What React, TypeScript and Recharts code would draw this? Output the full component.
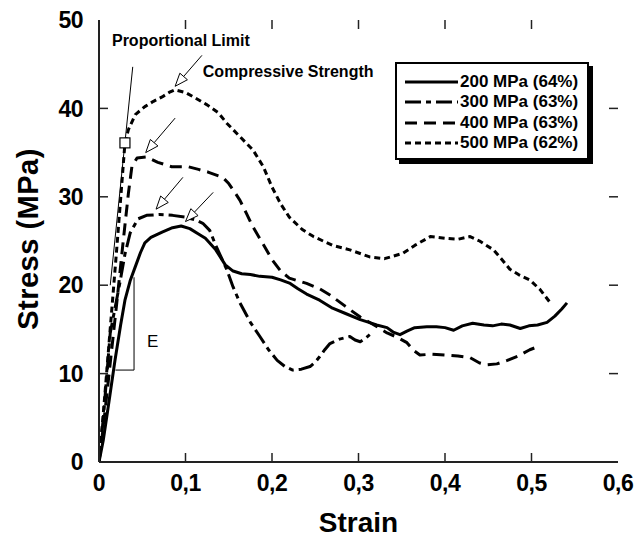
import React from "react";
import {
  LineChart,
  Line,
  XAxis,
  YAxis,
  Legend,
  ReferenceLine,
  ReferenceDot,
} from "recharts";

const FONT = "'Liberation Sans', Arial, sans-serif";

// 200 MPa (64%)
const strain200 = [0, 0.005, 0.01, 0.0185, 0.025, 0.03, 0.036, 0.042, 0.048, 0.053, 0.06, 0.073, 0.085, 0.095, 0.105, 0.115, 0.123, 0.135, 0.146, 0.155, 0.165, 0.175, 0.186, 0.2, 0.21, 0.221, 0.23, 0.24, 0.255, 0.27, 0.285, 0.302, 0.312, 0.321, 0.333, 0.34, 0.348, 0.356, 0.365, 0.379, 0.39, 0.4, 0.41, 0.42, 0.432, 0.445, 0.455, 0.465, 0.475, 0.487, 0.497, 0.507, 0.518, 0.527, 0.535, 0.541];
const stress200 = [0, 2.5, 5.8, 11.5, 15.5, 18.3, 20.5, 22.1, 23.7, 24.8, 25.4, 26, 26.5, 26.7, 26.4, 25.8, 25.3, 24, 22.3, 21.6, 21.3, 21.2, 21, 20.9, 20.6, 20.2, 19.6, 19, 18.3, 17.4, 16.8, 16.1, 15.8, 15.5, 15.2, 14.7, 14.4, 14.8, 15.2, 15.3, 15.3, 15.2, 14.9, 15.4, 15.7, 15.5, 15.4, 15.6, 15.5, 15.1, 15.4, 15.5, 15.8, 16.5, 17.3, 18];

// 300 MPa (63%)
const strain300 = [0, 0.005, 0.013, 0.024, 0.03, 0.036, 0.045, 0.055, 0.07, 0.085, 0.1, 0.111, 0.12, 0.128, 0.135, 0.142, 0.148, 0.155, 0.163, 0.175, 0.186, 0.196, 0.206, 0.215, 0.224, 0.234, 0.244, 0.25, 0.255, 0.261, 0.267, 0.278, 0.29, 0.296, 0.302, 0.308, 0.313];
const stress300 = [0, 5, 14.6, 20.2, 23.5, 25.9, 27.5, 27.9, 28, 27.9, 27.7, 27.4, 27, 26.2, 24.5, 23, 21.7, 19.8, 18, 15.8, 14.2, 12.7, 11.5, 10.8, 10.4, 10.5, 10.8, 11.3, 11.9, 12.7, 13.4, 13.9, 14.2, 13.8, 13.6, 14, 14.4];

// 400 MPa (63%)
const strain400 = [0, 0.005, 0.01, 0.02, 0.028, 0.034, 0.038, 0.044, 0.055, 0.068, 0.084, 0.103, 0.115, 0.126, 0.143, 0.15, 0.157, 0.163, 0.17, 0.178, 0.19, 0.2, 0.21, 0.22, 0.24, 0.255, 0.267, 0.285, 0.302, 0.318, 0.333, 0.345, 0.356, 0.364, 0.371, 0.385, 0.402, 0.415, 0.429, 0.44, 0.448, 0.46, 0.472, 0.485, 0.498, 0.506];
const stress400 = [0, 4, 8.5, 17.5, 25, 30.4, 33.4, 34.4, 34.5, 33.9, 33.4, 33.4, 33.1, 32.8, 32.2, 31.5, 30.5, 29.6, 28.2, 26.6, 24.6, 22.9, 21.6, 20.8, 20.2, 19.6, 18.9, 17.6, 16.4, 15.5, 14.6, 14.1, 13.5, 12.6, 12.1, 12.2, 12.1, 12, 11.8, 11.2, 11, 11.1, 11.5, 12, 12.7, 13];

// 500 MPa (62%)
const strain500 = [0, 0.005, 0.01, 0.02, 0.026, 0.03, 0.034, 0.042, 0.053, 0.063, 0.073, 0.081, 0.088, 0.1, 0.111, 0.125, 0.138, 0.148, 0.163, 0.178, 0.19, 0.2, 0.21, 0.22, 0.235, 0.248, 0.27, 0.29, 0.313, 0.33, 0.351, 0.365, 0.383, 0.4, 0.415, 0.429, 0.44, 0.456, 0.465, 0.475, 0.485, 0.498, 0.51, 0.521];
const stress500 = [0, 5.5, 11.5, 23.5, 31, 36.1, 37.6, 39.3, 40.2, 40.8, 41.3, 41.8, 42.1, 41.8, 41.2, 40.4, 39.5, 38.3, 36.8, 35.3, 33.4, 31.1, 29.2, 27.7, 26.3, 25.5, 24.5, 24, 23.2, 23, 23.6, 24.5, 25.5, 25.3, 25.2, 25.5, 25, 24, 23, 21.8, 21.2, 20.6, 19.5, 18.1];

const seriesLabels = ["200 MPa (64%)", "300 MPa (63%)", "400 MPa (63%)", "500 MPa (62%)"];
const seriesDash = ["0", "16 5 5 5", "12 7", "6 4"];

const xTicks = [0, 0.1, 0.2, 0.3, 0.4, 0.5, 0.6];
const yTicks = [0, 10, 20, 30, 40, 50];

// annotation arrows: [tailStrain, tailStress, tipStrain, tipStress]
const arrows = [
  [0.119, 46.0, 0.088, 42.5],
  [0.088, 38.9, 0.054, 35.0],
  [0.097, 32.2, 0.066, 28.6],
  [0.132, 30.5, 0.1, 27.2],
];

const zip = (xs: number[], ys: number[]) => xs.map((x, i) => ({ x, y: ys[i] }));

const seriesData = [
  zip(strain200, stress200),
  zip(strain300, stress300),
  zip(strain400, stress400),
  zip(strain500, stress500),
];

const fmtStrain = (v: number) => (v === 0 ? "0" : v.toFixed(1).replace(".", ","));

const tickStyle = { fill: "#000", fontSize: 23, fontWeight: 700, fontFamily: FONT, letterSpacing: -0.5 };

// inward tick marks (about 9px long) drawn on all four sides
const X_MAX = 0.6;
const Y_MAX = 50;
const xTickLen = 0.0104;
const yTickLen = 1.02;
const innerX = xTicks.filter((t) => t > 0 && t < X_MAX);
const innerY = yTicks.filter((t) => t > 0 && t < Y_MAX);
const tickSegments = [
  ...innerX.map((t) => [{ x: t, y: 0 }, { x: t, y: yTickLen }]),
  ...innerX.map((t) => [{ x: t, y: Y_MAX }, { x: t, y: Y_MAX - yTickLen }]),
  ...innerY.map((t) => [{ x: 0, y: t }, { x: xTickLen, y: t }]),
  ...innerY.map((t) => [{ x: X_MAX, y: t }, { x: X_MAX - xTickLen, y: t }]),
];

const ArrowShape = (p: any) => {
  const { x1, y1, x2, y2 } = p;
  const dx = x2 - x1;
  const dy = y2 - y1;
  const len = Math.sqrt(dx * dx + dy * dy) || 1;
  const ux = dx / len;
  const uy = dy / len;
  const hl = 13;
  const hw = 5;
  const bx = x2 - ux * hl;
  const by = y2 - uy * hl;
  const pts = `${x2},${y2} ${bx - uy * hw},${by + ux * hw} ${bx + uy * hw},${by - ux * hw}`;
  return (
    <g>
      <line x1={x1} y1={y1} x2={bx} y2={by} stroke="#000" strokeWidth={1} />
      <polygon points={pts} fill="#fff" stroke="#000" strokeWidth={1} />
    </g>
  );
};

const renderLegend = () => (
  <div
    style={{
      width: 194,
      height: 98,
      boxSizing: "border-box",
      border: "2px solid #000",
      boxShadow: "4px 4px 0 #000",
      background: "#fff",
      padding: "8px 0 0 8px",
      fontFamily: FONT,
      fontWeight: 700,
      fontSize: 17,
      color: "#000",
    }}
  >
    {seriesLabels.map((label, i) => (
      <div key={label} style={{ display: "flex", alignItems: "center", height: 20.3 }}>
        <svg width={53} height={6}>
          <line x1={0} y1={3} x2={53} y2={3} stroke="#000" strokeWidth={3} strokeDasharray={seriesDash[i]} />
        </svg>
        <span style={{ marginLeft: 2, whiteSpace: "nowrap" }}>{label}</span>
      </div>
    ))}
  </div>
);

const YTitle = (props: any) => {
  const { viewBox } = props;
  const cx = viewBox.x - 11;
  const cy = viewBox.y + viewBox.height / 2 - 2;
  return (
    <text
      x={cx}
      y={cy}
      transform={`rotate(-90 ${cx} ${cy})`}
      textAnchor="middle"
      dominantBaseline="central"
      fontFamily={FONT}
      fontWeight={700}
      fontSize={29}
      letterSpacing={0.5}
      fill="#000"
    >
      Stress (MPa)
    </text>
  );
};

const axisLine = { stroke: "#222", strokeWidth: 2 };

export default function App() {
  return (
    <div style={{ position: "absolute", left: 0, top: 0, background: "#fff" }}>
      <LineChart width={639} height={541} margin={{ top: 20, right: 21, bottom: 49, left: 39 }}>
        <XAxis
          xAxisId="x"
          type="number"
          dataKey="x"
          domain={[0, X_MAX]}
          ticks={xTicks}
          tickFormatter={fmtStrain}
          allowDataOverflow
          height={30}
          tickSize={-9}
          tickMargin={22}
          tick={tickStyle}
          axisLine={axisLine}
          tickLine={false}
          label={{
            value: "Strain",
            position: "bottom",
            offset: 20,
            style: { fill: "#000", fontSize: 28, fontWeight: 700, fontFamily: FONT },
          }}
        />
        <XAxis
          xAxisId="top"
          orientation="top"
          type="number"
          dataKey="x"
          domain={[0, X_MAX]}
          allowDataOverflow
          height={0}
          tick={false}
          tickLine={false}
          axisLine={axisLine}
        />
        <YAxis
          yAxisId="y"
          type="number"
          domain={[0, Y_MAX]}
          ticks={yTicks}
          allowDataOverflow
          width={60}
          tickSize={-9}
          tickMargin={25}
          tick={tickStyle}
          axisLine={axisLine}
          tickLine={false}
          label={{ content: YTitle }}
        />
        <YAxis
          yAxisId="right"
          orientation="right"
          type="number"
          domain={[0, Y_MAX]}
          allowDataOverflow
          width={0}
          tick={false}
          tickLine={false}
          axisLine={axisLine}
        />
        <Legend
          layout="vertical"
          align="center"
          verticalAlign="middle"
          content={renderLegend}
          wrapperStyle={{ left: 395, top: 62, width: 198, height: 102 }}
        />
        {tickSegments.map((s, i) => (
          <ReferenceLine
            key={"tick" + i}
            xAxisId="x"
            yAxisId="y"
            segment={s}
            stroke="#222"
            strokeWidth={1.5}
            ifOverflow="visible"
          />
        ))}
        {seriesData.map((d, i) => (
          <Line
            key={seriesLabels[i]}
            xAxisId="x"
            yAxisId="y"
            data={d}
            dataKey="y"
            name={seriesLabels[i]}
            type="linear"
            stroke="#000"
            strokeWidth={3}
            strokeDasharray={seriesDash[i] === "0" ? undefined : seriesDash[i]}
            strokeLinejoin="round"
            dot={false}
            activeDot={false}
            isAnimationActive={false}
          />
        ))}
        {/* proportional limit tangent */}
        <ReferenceLine
          xAxisId="x"
          yAxisId="y"
          segment={[{ x: 0.013, y: 20 }, { x: 0.039, y: 44.7 }]}
          stroke="#000"
          strokeWidth={1}
          ifOverflow="visible"
        />
        {/* E slope bracket */}
        <ReferenceLine
          xAxisId="x"
          yAxisId="y"
          segment={[{ x: 0.0405, y: 20.9 }, { x: 0.0405, y: 10.4 }]}
          stroke="#000"
          strokeWidth={1}
          ifOverflow="visible"
        />
        <ReferenceLine
          xAxisId="x"
          yAxisId="y"
          segment={[{ x: 0.019, y: 10.4 }, { x: 0.0405, y: 10.4 }]}
          stroke="#000"
          strokeWidth={1}
          ifOverflow="visible"
        />
        {arrows.map((a, i) => (
          <ReferenceLine
            key={"arrow" + i}
            xAxisId="x"
            yAxisId="y"
            segment={[{ x: a[0], y: a[1] }, { x: a[2], y: a[3] }]}
            ifOverflow="visible"
            shape={ArrowShape}
          />
        ))}
        <ReferenceDot
          xAxisId="x"
          yAxisId="y"
          x={0.03}
          y={36.1}
          ifOverflow="visible"
          shape={(p: any) => (
            <rect x={p.cx - 5} y={p.cy - 5} width={10} height={10} fill="#fff" stroke="#000" strokeWidth={1.2} />
          )}
        />
        <ReferenceDot
          xAxisId="x"
          yAxisId="y"
          x={0.015}
          y={47.06}
          ifOverflow="visible"
          shape={(p: any) => (
            <text x={p.cx} y={p.cy} fontFamily={FONT} fontWeight={700} fontSize={16} fill="#000">
              Proportional Limit
            </text>
          )}
        />
        <ReferenceDot
          xAxisId="x"
          yAxisId="y"
          x={0.12}
          y={43.55}
          ifOverflow="visible"
          shape={(p: any) => (
            <text x={p.cx} y={p.cy} fontFamily={FONT} fontWeight={700} fontSize={16} fill="#000">
              Compressive Strength
            </text>
          )}
        />
        <ReferenceDot
          xAxisId="x"
          yAxisId="y"
          x={0.0555}
          y={13.0}
          ifOverflow="visible"
          shape={(p: any) => (
            <text x={p.cx} y={p.cy} fontFamily={FONT} fontSize={17} fill="#000">
              E
            </text>
          )}
        />
      </LineChart>
    </div>
  );
}
